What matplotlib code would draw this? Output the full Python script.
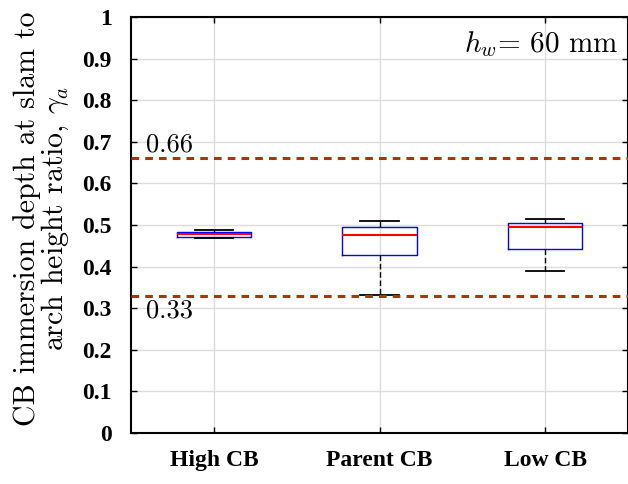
import matplotlib
matplotlib.use("Agg")
import matplotlib.pyplot as plt

plt.rcParams["mathtext.fontset"] = "cm"

# box statistics per configuration
categories = ["High CB", "Parent CB", "Low CB"]
whisker_low = [0.468, 0.332, 0.390]
q1 = [0.471, 0.428, 0.442]
median = [0.479, 0.477, 0.496]
q3 = [0.484, 0.496, 0.506]
whisker_high = [0.487, 0.510, 0.515]

upper_limit = 0.66
lower_limit = 0.33

stats = []
for i in range(len(categories)):
    stats.append({
        "whislo": whisker_low[i],
        "q1": q1[i],
        "med": median[i],
        "q3": q3[i],
        "whishi": whisker_high[i],
        "fliers": [],
        "label": categories[i],
    })

fig = plt.figure(figsize=(6.28, 4.84), dpi=100)
ax = fig.add_axes([131 / 628, 1 - 433 / 484, 497 / 628, 416 / 484])

ax.bxp(stats, positions=[1, 2, 3], widths=0.45, capwidths=0.23,
       showfliers=False,
       boxprops=dict(color="blue", linewidth=1),
       medianprops=dict(color="red", linewidth=1.5),
       whiskerprops=dict(color="black", linestyle=(0, (4, 2)), linewidth=1),
       capprops=dict(color="black", linewidth=1.3))

ax.axhline(upper_limit, color="#9e3a0c", linestyle=(0, (2.5, 2)), linewidth=2.2, zorder=4)
ax.axhline(lower_limit, color="#9e3a0c", linestyle=(0, (2.5, 2)), linewidth=2.2, zorder=4)
ax.text(0.59, upper_limit + 0.005, "0.66", family="cmr10", fontsize=19, va="bottom", ha="left")
ax.text(0.59, lower_limit - 0.008, "0.33", family="cmr10", fontsize=19, va="top", ha="left")
ax.text(3.44, 0.972, r"$h_w$= 60 mm", family="cmr10", fontsize=21, va="top", ha="right")

ax.set_xlim(0.5, 3.5)
ax.set_ylim(0, 1)
ax.set_yticks([i / 10 for i in range(11)])
ax.set_yticklabels(["0", "0.1", "0.2", "0.3", "0.4", "0.5", "0.6", "0.7", "0.8", "0.9", "1"])
ax.set_xticks([1, 2, 3])
ax.set_xticklabels(categories)
for lbl in ax.get_yticklabels():
    lbl.set_fontfamily("Liberation Serif")
    lbl.set_fontweight("bold")
    lbl.set_fontsize(17)
for lbl in ax.get_xticklabels():
    lbl.set_fontfamily("Liberation Serif")
    lbl.set_fontweight("bold")
    lbl.set_fontsize(17)

ax.tick_params(direction="in", length=4, width=1, top=True, right=True)
ax.tick_params(axis="y", pad=14)
ax.tick_params(axis="x", pad=12)
ax.grid(True, color="#dcdcdc", linewidth=1)
ax.set_axisbelow(True)
for sp in ax.spines.values():
    sp.set_linewidth(1.5)

ax.set_ylabel("CB immersion depth at slam to\narch height ratio, $\\gamma_a$",
              family="cmr10", fontsize=21.5, linespacing=0.95)
ax.yaxis.set_label_coords(-0.12, 0.516)

fig.savefig("out.png", dpi=100)
